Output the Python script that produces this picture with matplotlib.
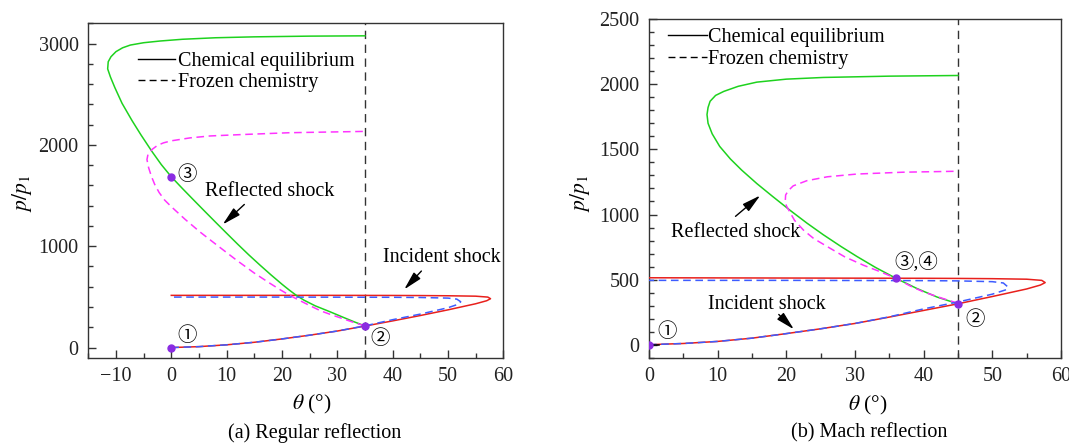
import matplotlib
matplotlib.use('Agg')
import matplotlib.pyplot as plt
from matplotlib.ticker import MultipleLocator
from matplotlib.lines import Line2D

plt.rcParams['font.family'] = ['Liberation Serif', 'Noto Sans CJK JP', 'DejaVu Sans']
plt.rcParams['mathtext.fontset'] = 'stix'
plt.rcParams['axes.unicode_minus'] = True

# ---- (a) regular reflection ----
# incident shock polar, chemical equilibrium (red)
a_inc_eq_theta = [0, 5, 10, 15, 20, 25, 30, 35, 40, 45, 50, 55, 57.0, 57.7, 57.2, 55, 50, 45, 40, 30, 20, 10, 0]
a_inc_eq_p = [0, 9, 27, 52, 85, 122, 163, 212, 263, 316, 372, 432, 462, 482, 498, 507, 511, 513, 514, 515, 515, 515, 515]
# incident shock polar, frozen (blue dashed)
a_inc_fr_theta = [0, 5, 10, 15, 20, 25, 30, 35, 40, 45, 50, 52.0, 52.3, 51.6, 50, 45, 40, 30, 20, 10, 0]
a_inc_fr_p = [0, 9, 27, 52, 85, 122, 163, 214, 275, 330, 393, 430, 452, 478, 488, 494, 496, 497, 498, 498, 498]
# reflected shock polar, equilibrium (green)
a_ref_eq_theta = [35, 33, 31, 28.6, 26, 24, 22.6, 21.3, 20, 18, 16, 14, 12, 10, 8, 6, 4, 2, 0, -1.8, -3.5,
                  -5.5, -7.1, -8.9, -10.2, -11.0, -11.5, -11.4, -10.9, -10.0, -8.8, -7.4, -5, -2, 2, 8, 15, 25, 35]
a_ref_eq_p = [213, 255, 300, 355, 412, 467, 515, 568, 625, 718, 815, 915, 1020, 1128, 1237, 1347, 1458, 1570, 1685, 1805, 1935,
              2100, 2240, 2410, 2565, 2670, 2750, 2820, 2870, 2920, 2958, 2985, 3008, 3025, 3042, 3057, 3066, 3073, 3076]
# reflected shock polar, frozen (magenta dashed)
a_ref_fr_theta = [35, 33, 31, 29, 27, 25, 23, 21.4, 19.6, 17.8, 15, 11.8, 8.5, 5.2, 2.5, 0, -1.2, -2.2, -3.0, -3.6,
                  -4.1, -4.4, -4.2, -3.5, -2.5, -1.4, 0, 3.4, 7, 12.4, 21.4, 35]
a_ref_fr_p = [213, 247, 285, 322, 362, 415, 470, 515, 573, 635, 735, 862, 1000, 1140, 1265, 1390, 1455, 1530, 1610, 1690,
              1775, 1855, 1910, 1954, 1995, 2020, 2040, 2069, 2088, 2101, 2120, 2133]
a_pts_theta = [0, 35, 0]
a_pts_p = [0, 213, 1685]
a_wedge = 35

# ---- (b) Mach reflection ----
b_inc_eq_theta = [0, 5, 10, 15, 20, 25, 30, 35, 40, 45, 50, 55, 57.0, 57.7, 57.2, 55, 50, 45, 40, 30, 20, 10, 0]
b_inc_eq_p = [0, 9, 25, 50, 85, 122, 163, 212, 263, 314, 370, 428, 458, 477, 494, 503, 507, 509, 510, 511, 512, 513, 514]
b_inc_fr_theta = [0, 5, 10, 15, 20, 25, 30, 35, 40, 45, 50, 52.0, 52.3, 51.6, 50, 45, 40, 30, 20, 10, 0]
b_inc_fr_p = [0, 9, 25, 50, 85, 122, 163, 214, 275, 328, 388, 422, 442, 474, 484, 490, 492, 493, 494, 494, 494]
b_ref_eq_theta = [45, 42, 39, 36, 33, 30.3, 28, 25.4, 23, 20.6, 18, 15.7, 13.5, 11.85, 10.3, 9.2, 8.6, 8.45,
                  8.6, 8.9, 9.7, 10.9, 13, 15.7, 20, 25.4, 35, 45]
b_ref_eq_p = [314, 365, 432, 509, 593, 677, 753, 844, 934, 1030, 1139, 1238, 1341, 1427, 1523, 1620, 1701, 1768,
              1822, 1870, 1915, 1946, 1985, 2017, 2040, 2053, 2063, 2068]
b_ref_fr_theta = [45, 42.5, 40, 38, 36, 33.5, 31.25, 28.5, 26.4, 24, 22.5, 21.2, 20.5, 20.0, 19.85, 19.9, 20.3, 21, 23, 26, 30.3, 37, 44.5]
b_ref_fr_p = [318, 360, 405, 452, 509, 564, 610, 675, 740, 815, 880, 955, 1020, 1068, 1108, 1150, 1184, 1220, 1260, 1290, 1311, 1325, 1332]
b_pts_theta = [0, 45, 36]
b_pts_p = [0, 314, 509]
b_start_theta = [0, 1.4]
b_start_p = [0, 0]
b_wedge = 45

RED = '#e8201c'
BLUE = '#3d5cff'
GREEN = '#1ed21e'
MAG = '#ff33ff'
PT = '#8a2be2'
DASH = (0, (5, 3))
FS = 14.5

fig = plt.figure(figsize=(10.69, 4.44), dpi=100)
ax1 = fig.add_axes([0.0826, 0.1944, 0.3882, 0.7532])
ax2 = fig.add_axes([0.6071, 0.1944, 0.3854, 0.7622])


def draw(ax, inc_eq, inc_fr, ref_eq, ref_fr, pts, wedge):
    ax.plot(*inc_eq, color=RED, lw=1.1, zorder=3)
    ax.plot(*inc_fr, color=BLUE, lw=1.1, ls=DASH, zorder=4)
    ax.plot(*ref_eq, color=GREEN, lw=1.1, zorder=3)
    ax.plot(*ref_fr, color=MAG, lw=1.1, ls=DASH, zorder=3)
    ax.axvline(wedge, color='#333333', lw=1, ls=(0, (6, 4)), zorder=2)
    ax.plot(*pts, 'o', color=PT, ms=5, zorder=6)
    for s in ax.spines.values():
        s.set_linewidth(1.0)
        s.set_color('#333333')
    ax.tick_params(which='both', direction='in', top=False, right=False, labelsize=FS, pad=7,
                   color='#333333', labelcolor='#222222')
    ax.tick_params(which='major', length=6, width=1)
    ax.tick_params(which='minor', length=3.5, width=1)
    handles = [Line2D([], [], color='k', lw=1), Line2D([], [], color='k', lw=1, ls=DASH)]
    return handles


h = draw(ax1, (a_inc_eq_theta, a_inc_eq_p), (a_inc_fr_theta, a_inc_fr_p),
         (a_ref_eq_theta, a_ref_eq_p), (a_ref_fr_theta, a_ref_fr_p), (a_pts_theta, a_pts_p), a_wedge)
ax1.set_xlim(-15, 60)
ax1.set_ylim(-100, 3200)
ax1.xaxis.set_major_locator(MultipleLocator(10))
ax1.xaxis.set_minor_locator(MultipleLocator(5))
ax1.yaxis.set_major_locator(MultipleLocator(1000))
ax1.yaxis.set_minor_locator(MultipleLocator(200))
ax1.legend(h, ['Chemical equilibrium', 'Frozen chemistry'], loc='upper left', bbox_to_anchor=(0.12, 0.915),
           frameon=False, fontsize=FS, handlelength=1.85, handletextpad=0.15, borderpad=0, borderaxespad=0,
           labelspacing=0.12)
cfont = dict(fontsize=14)
ax1.text(2.8, 114, '①', ha='center', va='center', **cfont)
ax1.text(37.7, 89, '②', ha='center', va='center', **cfont)
ax1.text(2.8, 1707, '③', ha='center', va='center', **cfont)
ax1.text(17.7, 1543, 'Reflected shock', ha='center', va='center', fontsize=FS)
ax1.text(48.9, 886, 'Incident shock', ha='center', va='center', fontsize=FS)
arrow = dict(arrowstyle='-|>,head_length=0.8,head_width=0.2', color='k', lw=1, shrinkA=0, shrinkB=0,
             mutation_scale=14)
ax1.annotate('', xy=(9.3, 1215), xytext=(13.2, 1412), arrowprops=arrow)
ax1.annotate('', xy=(42.1, 574), xytext=(45.2, 755), arrowprops=arrow)

h = draw(ax2, (b_inc_eq_theta, b_inc_eq_p), (b_inc_fr_theta, b_inc_fr_p),
         (b_ref_eq_theta, b_ref_eq_p), (b_ref_fr_theta, b_ref_fr_p), (b_pts_theta, b_pts_p), b_wedge)
ax2.plot(b_start_theta, b_start_p, color='k', lw=1.1, zorder=5)
ax2.set_xlim(0, 60)
ax2.set_ylim(-100, 2500)
ax2.xaxis.set_major_locator(MultipleLocator(10))
ax2.xaxis.set_minor_locator(MultipleLocator(5))
ax2.yaxis.set_major_locator(MultipleLocator(500))
ax2.yaxis.set_minor_locator(MultipleLocator(100))
ax2.legend(h, ['Chemical equilibrium', 'Frozen chemistry'], loc='upper left', bbox_to_anchor=(0.047, 0.975),
           frameon=False, fontsize=FS, handlelength=1.9, handletextpad=0.08, borderpad=0, borderaxespad=0,
           labelspacing=0.17)
ax2.text(2.6, 97, '①', ha='center', va='center', **cfont)
ax2.text(47.5, 194, '②', ha='center', va='center', **cfont)
ax2.text(39.0, 631, '③,④', ha='center', va='center', **cfont)
ax2.text(12.65, 865, 'Reflected shock', ha='center', va='center', fontsize=FS)
ax2.text(17.2, 305, 'Incident shock', ha='center', va='center', fontsize=FS)
ax2.annotate('', xy=(16.2, 1146), xytext=(12.6, 986), arrowprops=arrow)
ax2.annotate('', xy=(21.1, 118), xytext=(18.9, 232), arrowprops=arrow)

# axis labels and captions
W, H = 1069, 444
fig.text(311.7 / W, 1 - 404 / H, r'$\theta$ (°)', ha='center', va='center', fontsize=15.5)
fig.text(868 / W, 1 - 405 / H, r'$\theta$ (°)', ha='center', va='center', fontsize=15.5)
fig.text(22 / W, 1 - 193 / H, r'$p/p_{1}$', ha='center', va='center', rotation=90, fontsize=15.5)
fig.text(580 / W, 1 - 193 / H, r'$p/p_{1}$', ha='center', va='center', rotation=90, fontsize=15.5)
fig.text(315 / W, 1 - 433 / H, '(a) Regular reflection', ha='center', va='center', fontsize=FS)
fig.text(869 / W, 1 - 433 / H, '(b) Mach reflection', ha='center', va='center', fontsize=FS)

fig.savefig('out.png', dpi=100)
